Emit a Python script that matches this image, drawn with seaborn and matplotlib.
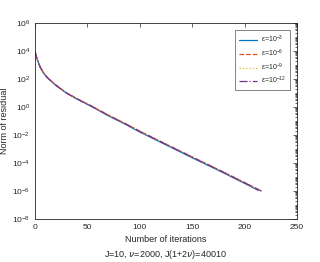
import numpy as np
import pandas as pd
import matplotlib
matplotlib.use("Agg")
import matplotlib.pyplot as plt
import matplotlib.ticker as mticker
import seaborn as sns

# ---------------------
# data (log10 of residual norm)
# ---------------------
iters_a = [0, 2, 5, 8, 12, 20, 30, 40, 55, 70, 85, 100, 125, 150, 175, 200, 213]
iters_b = [0, 2, 5, 8, 12, 20, 30, 40, 55, 70, 85, 100, 125, 150, 175, 200, 216]
log_res_3 = [4.0, 3.45, 2.85, 2.45, 2.08, 1.55, 1.0, 0.58, 0.0, -0.62, -1.18, -1.78, -2.70, -3.62, -4.52, -5.45, -5.95]
log_res_6 = [4.0, 3.47, 2.88, 2.48, 2.10, 1.58, 1.03, 0.61, 0.04, -0.57, -1.13, -1.72, -2.64, -3.56, -4.46, -5.39, -6.0]
log_res_9 = [4.0, 3.46, 2.87, 2.47, 2.09, 1.57, 1.02, 0.60, 0.03, -0.58, -1.14, -1.73, -2.65, -3.57, -4.47, -5.40, -6.0]
log_res_12 = [4.0, 3.46, 2.86, 2.46, 2.09, 1.56, 1.01, 0.59, 0.02, -0.59, -1.15, -1.74, -2.66, -3.58, -4.48, -5.41, -6.0]

labels = ["ε=10$^{-3}$", "ε=10$^{-6}$", "ε=10$^{-9}$", "ε=10$^{-12}$"]
colors = ["#0072BD", "#D95319", "#EDB120", "#7E2F8E"]
styles = ["-", "--", ":", "-."]

rows = []
for lab, xs, ys in zip(labels, [iters_a, iters_b, iters_b, iters_b],
                       [log_res_3, log_res_6, log_res_9, log_res_12]):
    for x, y in zip(xs, ys):
        rows.append({"iter": x, "res": 10.0 ** y, "eps": lab})
df = pd.DataFrame(rows)

# ---------------------
# plot
# ---------------------
sns.set_style("white")
plt.rcParams["font.family"] = ["Liberation Sans", "DejaVu Sans"]
plt.rcParams["mathtext.fontset"] = "custom"
plt.rcParams["mathtext.rm"] = "Liberation Sans"

fig = plt.figure(figsize=(3.2, 2.62), dpi=100)
ax = fig.add_axes([0.109, 0.164, 0.819, 0.748])

for lab, col, ls in zip(labels, colors, styles):
    sub = df[df["eps"] == lab]
    sns.lineplot(data=sub, x="iter", y="res", ax=ax, color=col,
                 linestyle=ls, linewidth=0.9, label=lab)

ax.set_yscale("log")
ax.set_xlim(0, 250)
ax.set_ylim(1e-8, 1e6)
ax.set_xticks([0, 50, 100, 150, 200, 250])
ax.set_yticks([10.0 ** p for p in range(-8, 7, 2)])
ax.yaxis.set_major_formatter(mticker.LogFormatterMathtext())
ax.yaxis.set_minor_locator(mticker.LogLocator(base=10, subs=np.arange(1, 10), numticks=50))
ax.yaxis.set_minor_formatter(mticker.NullFormatter())

gray = "#262626"
for sp in ax.spines.values():
    sp.set_color(gray)
    sp.set_linewidth(0.6)
ax.tick_params(which="both", direction="in", top=True, right=True,
               colors=gray, labelsize=6, width=0.5)
ax.tick_params(which="major", length=3)
ax.tick_params(which="minor", length=1.5)

ax.set_xlabel("Number of iterations\nJ=10, $\\nu$=2000, J(1+2$\\nu$)=40010",
              fontsize=6.5, color=gray, labelpad=3, linespacing=1.4)
ax.set_ylabel("Norm of residual", fontsize=6.5, color=gray, labelpad=2)

leg = ax.legend(loc="upper right", fontsize=5, frameon=True, fancybox=False,
                edgecolor=gray, handlelength=2.6, handletextpad=0.6,
                borderpad=0.5, labelspacing=0.35,
                bbox_to_anchor=(0.985, 0.98))
leg.get_frame().set_linewidth(0.5)

plt.savefig("out.png", dpi=100)
